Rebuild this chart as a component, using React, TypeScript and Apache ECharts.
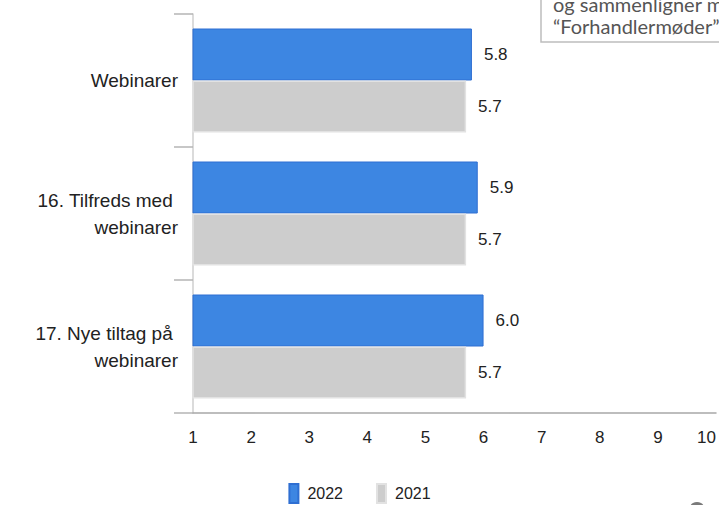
import React, { useEffect, useRef } from "react";
import * as echarts from "echarts";

const categories = ["Webinarer", "16. Tilfreds med \nwebinarer", "17. Nye tiltag på \nwebinarer"];
const values2022 = [5.8, 5.9, 6.0];
const values2021 = [5.7, 5.7, 5.7];
const seriesNames = ["2022", "2021"];
const boxLines = ["og sammenligner med", "\u201cForhandlermøder\u201d"];

export default function App() {
  const ref = useRef<HTMLDivElement>(null);
  useEffect(() => {
    if (!ref.current) return;
    const chart = echarts.init(ref.current, null, { renderer: "svg" });
    const font = "'Liberation Sans', Arial, sans-serif";
    const labelStyle = {
      show: true,
      position: "right",
      distance: 12,
      fontSize: 17,
      color: "#222",
      fontFamily: font,
      formatter: (p: any) => Number(p.value).toFixed(1),
    };
    chart.setOption({
      animation: false,
      textStyle: { fontFamily: font },
      grid: { left: 193, right: 2, top: 14, bottom: 92, containLabel: false },
      xAxis: {
        type: "value",
        min: 1,
        max: 10,
        interval: 1,
        axisLine: { show: true, lineStyle: { color: "#a8a8a8", width: 1.5 } },
        axisTick: { show: false },
        splitLine: { show: false },
        axisLabel: {
          fontSize: 17,
          color: "#222",
          margin: 16,
          fontFamily: font,
          alignMaxLabel: "right",
        },
      },
      yAxis: {
        type: "category",
        inverse: true,
        data: categories,
        axisLine: { show: true, lineStyle: { color: "#cfcfcf", width: 1.5 } },
        axisTick: { show: true, length: 19, lineStyle: { color: "#b5b5b5", width: 1.5 } },
        axisLabel: {
          fontSize: 19,
          color: "#222",
          margin: 15,
          lineHeight: 27,
          fontFamily: font,
        },
      },
      legend: {
        data: seriesNames,
        top: 483,
        left: "center",
        padding: 0,
        itemWidth: 9,
        itemHeight: 19,
        itemGap: 33,
        icon: "rect",
        textStyle: { fontSize: 16, color: "#222", fontFamily: font, padding: [0, 0, 0, 4] },
      },
      series: [
        {
          name: seriesNames[0],
          type: "bar",
          data: values2022,
          barWidth: 52,
          barGap: "0%",
          itemStyle: { color: "#3d86e2", borderColor: "#2f6fd2", borderWidth: 1 },
          label: labelStyle,
        },
        {
          name: seriesNames[1],
          type: "bar",
          data: values2021,
          barWidth: 52,
          barGap: "0%",
          itemStyle: { color: "#cdcdcd", borderColor: "#e2e2e2", borderWidth: 1.5 },
          label: labelStyle,
        },
      ],
      graphic: [
        {
          type: "rect",
          shape: { x: 541, y: -10, width: 220, height: 52 },
          style: { fill: "#fff", stroke: "#bdbdbd", lineWidth: 1.5 },
          z: 10,
        },
        {
          type: "text",
          x: 553,
          y: 4,
          style: {
            text: boxLines[0],
            fontSize: 20,
            fill: "#555",
            fontFamily: "Lato, 'Open Sans', sans-serif",
            verticalAlign: "middle",
          },
          z: 11,
        },
        {
          type: "text",
          x: 553,
          y: 26,
          style: {
            text: boxLines[1],
            fontSize: 20,
            fill: "#555",
            fontFamily: "Lato, 'Open Sans', sans-serif",
            verticalAlign: "middle",
          },
          z: 11,
        },
        {
          type: "circle",
          shape: { cx: 697, cy: 510, r: 8 },
          style: { fill: "#7a7a7a" },
          z: 11,
        },
      ],
    });
    return () => chart.dispose();
  }, []);
  return (
    <div
      ref={ref}
      style={{ position: "absolute", left: 0, top: 0, width: 719, height: 505, background: "#fff" }}
    />
  );
}
